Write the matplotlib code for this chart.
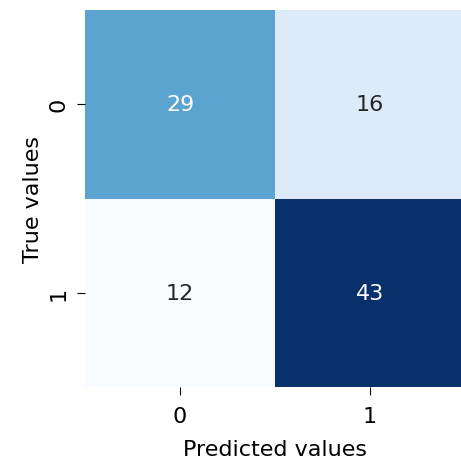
import numpy as np
import matplotlib
matplotlib.use("Agg")
import matplotlib.pyplot as plt
import seaborn as sns

labels = ["0", "1"]
cm = np.array([[29, 16],
               [12, 43]])

fig = plt.figure(figsize=(4.61, 4.64), dpi=100)
ax = fig.add_axes([85 / 461, 76 / 464, 380 / 461, 377 / 464])

sns.heatmap(cm, annot=True, fmt="d", cmap="Blues", cbar=False,
            xticklabels=labels, yticklabels=labels, ax=ax,
            annot_kws={"fontsize": 16})

ax.set_xlabel("Predicted values", fontsize=16, labelpad=9)
ax.set_ylabel("True values", fontsize=16, labelpad=4)
ax.tick_params(axis="x", labelsize=16, length=6, pad=8)
ax.tick_params(axis="y", labelsize=16, length=6, pad=6)
plt.setp(ax.get_yticklabels(), rotation=90, va="center")

fig.savefig("out.png", dpi=100)
